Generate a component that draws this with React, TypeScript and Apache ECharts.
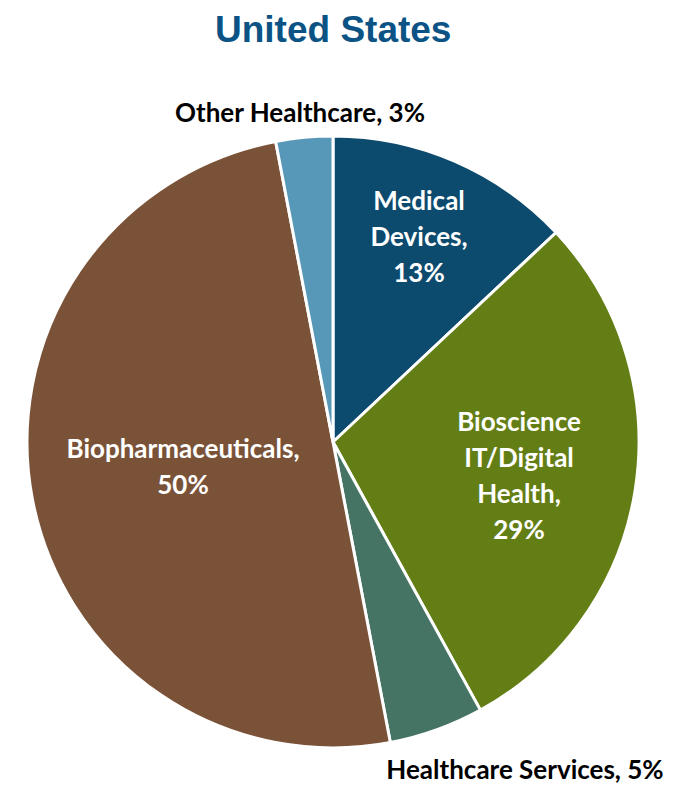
import React, { useEffect, useRef } from "react";
import * as echarts from "echarts";

const categories = [
  "Medical Devices",
  "Bioscience IT/Digital Health",
  "Healthcare Services",
  "Biopharmaceuticals",
  "Other Healthcare",
];
const values = [13, 29, 5, 50, 3];
const labelTexts = [
  "Medical\nDevices,\n13%",
  "Bioscience\nIT/Digital\nHealth,\n29%",
  "Healthcare Services, 5%",
  "Biopharmaceuticals,\n50%",
  "Other Healthcare, 3%",
];
const colors = ["#0C4A6E", "#647E16", "#457464", "#7A5238", "#5797B8"];
const labelColors = ["#ffffff", "#ffffff", "#000000", "#ffffff", "#000000"];
// label anchor positions (layout only)
const labelPos: [number, number][] = [
  [419, 236],
  [519, 475],
  [525, 769],
  [183, 466],
  [300, 112],
];

export default function App() {
  const ref = useRef<HTMLDivElement>(null);
  useEffect(() => {
    document.body.style.margin = "0";
    const chart = echarts.init(ref.current!, undefined, { renderer: "svg" });
    chart.setOption({
      animation: false,
      backgroundColor: "#ffffff",
      title: {
        text: "United States",
        left: 210,
        top: 6,
        textStyle: {
          fontFamily: "Liberation Sans, Arial, sans-serif",
          fontWeight: "bold",
          fontSize: 37,
          color: "#0B5385",
        },
      },
      series: [
        {
          type: "pie",
          center: [333, 442],
          radius: [0, 306],
          startAngle: 90,
          clockwise: true,
          itemStyle: { borderColor: "#ffffff", borderWidth: 3 },
          labelLine: { show: false },
          label: {
            show: true,
            position: "inside",
            fontFamily: "Lato, sans-serif",
            fontWeight: "bold",
            fontSize: 26,
            lineHeight: 36,
            align: "center",
          },
          labelLayout: (p: any) => ({
            x: labelPos[p.dataIndex][0],
            y: labelPos[p.dataIndex][1],
            align: "center",
            verticalAlign: "middle",
          }),
          data: categories.map((c, i) => ({
            name: c,
            value: values[i],
            itemStyle: { color: colors[i] },
            label: {
              formatter: labelTexts[i],
              color: labelColors[i],
              lineHeight: i === 2 ? 24 : 36,
            },
          })),
        },
      ],
    });
    return () => chart.dispose();
  }, []);
  return <div ref={ref} style={{ width: 678, height: 785 }} />;
}
